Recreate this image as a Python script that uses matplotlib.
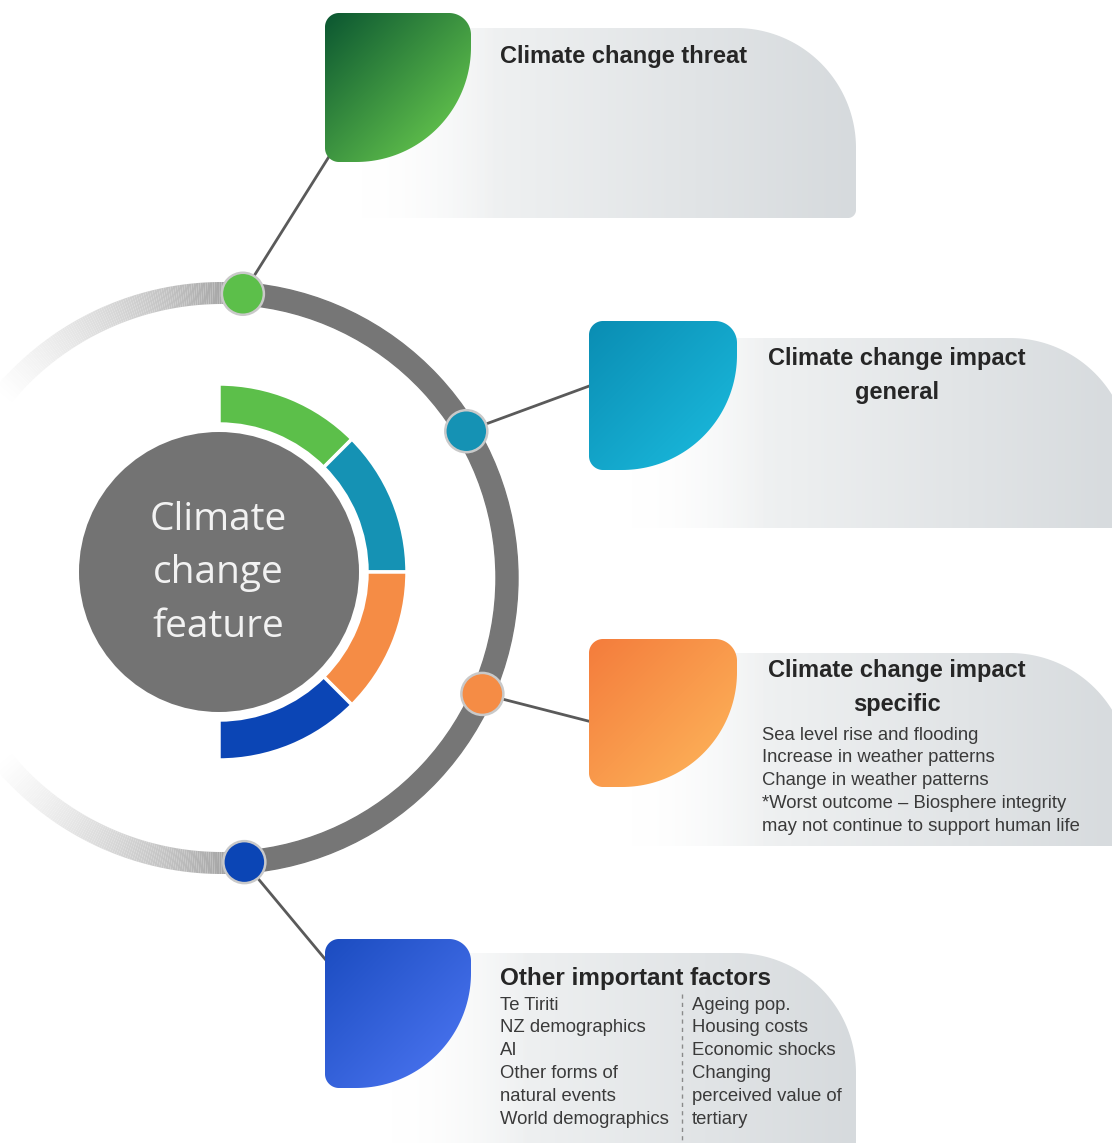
import numpy as np
import matplotlib.pyplot as plt
from matplotlib.patches import Wedge, Circle, PathPatch
from matplotlib.path import Path

# text content
# -------------------------------------------------------------------------------------
centre_words = ["Climate", "change", "feature"]
titles = [["Climate change threat"],
          ["Climate change impact", "general"],
          ["Climate change impact", "specific"],
          ["Other important factors"]]
specific_lines = ["Sea level rise and flooding",
                  "Increase in weather patterns",
                  "Change in weather patterns",
                  "*Worst outcome \u2013 Biosphere integrity",
                  "may not continue to support human life"]
factors_left = ["Te Tiriti", "NZ demographics", "AI", "Other forms of",
                "natural events", "World demographics"]
factors_right = ["Ageing pop.", "Housing costs", "Economic shocks", "Changing",
                 "perceived value of", "tertiary"]

# colours of the four themes (dot / inner arc, card gradient start, card gradient end)
theme_dot = ["#5cbf4a", "#1592b4", "#f58c45", "#0b45b5"]
card_c0 = ["#0b5631", "#0a8db3", "#f47c3c", "#1b4cc0"]
card_c1 = ["#72d651", "#1cbde0", "#feb85c", "#4f78f5"]


W, H = 1112, 1143
fig = plt.figure(figsize=(W / 100, H / 100), dpi=100)
ax = fig.add_axes([0, 0, 1, 1])
plt.rcParams['font.family'] = ['Liberation Sans', 'DejaVu Sans']


def hex2rgb(h):
    return np.array([int(h[i:i + 2], 16) for i in (1, 3, 5)]) / 255


def rounded_path(x0, y0, x1, y1, r_tl, r_tr, r_br, r_bl, n=60):
    # y grows downwards (axis is inverted)
    corners = [(x0 + r_tl, y0 + r_tl, r_tl, 180, 270),
               (x1 - r_tr, y0 + r_tr, r_tr, 270, 360),
               (x1 - r_br, y1 - r_br, r_br, 0, 90),
               (x0 + r_bl, y1 - r_bl, r_bl, 90, 180)]
    pts = []
    for cx, cy, r, a0, a1 in corners:
        t = np.radians(np.linspace(a0, a1, n))
        pts.append(np.column_stack([cx + r * np.cos(t), cy + r * np.sin(t)]))
    pts = np.vstack(pts)
    return Path(np.vstack([pts, pts[:1]]), closed=True)


def gradient_fill(path, c0, c1, mode="diag", fade=None, zorder=1):
    x0, y0 = path.vertices.min(0)
    x1, y1 = path.vertices.max(0)
    nx, ny = int(x1 - x0) + 1, int(y1 - y0) + 1
    X, Y = np.meshgrid(np.linspace(0, 1, nx), np.linspace(0, 1, ny))
    t = (X + Y) / 2 if mode == "diag" else X
    rgb = hex2rgb(c0) * (1 - t[..., None]) + hex2rgb(c1) * t[..., None]
    alpha = np.ones_like(t)
    if fade:
        alpha = np.clip(X * (x1 - x0) / fade, 0, 1) ** 1.3
    img = np.dstack([rgb, alpha])
    patch = PathPatch(path, facecolor="none", edgecolor="none", transform=ax.transData)
    ax.add_patch(patch)
    im = ax.imshow(img, extent=(x0, x1, y1, y0), origin="upper", aspect="auto",
                   zorder=zorder, interpolation="bilinear")
    im.set_clip_path(patch)


# background panels
# -------------------------------------------------------------------------------------
panels = [(360, 28, 856, 218), (630, 338, 1130, 528), (630, 653, 1130, 846), (390, 953, 856, 1170)]
for (x0, y0, x1, y1) in panels:
    gradient_fill(rounded_path(x0, y0, x1, y1, 0.01, 120, 8, 0.01), "#f8f9f9", "#d6dadd",
                  mode="h", fade=140, zorder=1)

# cards
cards = [(325, 13, 471, 162), (589, 321, 737, 470), (589, 639, 737, 787), (325, 939, 471, 1088)]
for k, (x0, y0, x1, y1) in enumerate(cards):
    gradient_fill(rounded_path(x0, y0, x1, y1, 14, 22, 115, 14), card_c0[k], card_c1[k],
                  mode="diag", zorder=3)

# outer ring
# -------------------------------------------------------------------------------------
rc = (222, 578)
r_out, ring_w = 296, 22
ax.add_patch(Wedge(rc, r_out, -86, 86, width=ring_w, color="#767676", zorder=2))
a_end = 140
steps = np.linspace(86, a_end, 120)
for a0, a1 in zip(steps[:-1], steps[1:]):
    t = (a0 - 86) / (a_end - 86)
    g = 0.56 + 0.44 * t ** 0.6
    ax.add_patch(Wedge(rc, r_out, -a1, -a0, width=ring_w, color=(g, g, g), lw=0, zorder=2))
    ax.add_patch(Wedge(rc, r_out, a0, a1, width=ring_w, color=(g, g, g), lw=0, zorder=2))

# connectors and dots
dot_angles = [85.8, 31, -24, -85.5]
r_mid = r_out - ring_w / 2
card_anchor = [(330, 155), (592, 385), (592, 722), (330, 965)]
for k, a in enumerate(dot_angles):
    cx = rc[0] + r_mid * np.cos(np.radians(a))
    cy = rc[1] - r_mid * np.sin(np.radians(a))
    ax.plot([cx, card_anchor[k][0]], [cy, card_anchor[k][1]], color="#5a5a5a", lw=2,
            zorder=2, solid_capstyle="round")
    ax.add_patch(Circle((cx, cy), 21, fc=theme_dot[k], ec="#c9c9c9", lw=1.8, zorder=4))

# centre circle and inner arcs
# -------------------------------------------------------------------------------------
cc = (219, 572)
ax.add_patch(Circle(cc, 140, fc="#737373", ec="none", zorder=3))
bounds = [90, 45, 0, -45, -90]
for k in range(4):
    ax.add_patch(Wedge(cc, 188, -bounds[k], -bounds[k + 1], width=40, fc=theme_dot[k],
                       ec="white", lw=2.5, zorder=3))
for k, w in enumerate(centre_words):
    ax.text(218, 520 + 53.5 * k, w, ha="center", va="center", fontsize=28,
            color="#f2f2f2", family=["Open Sans", "DejaVu Sans"], zorder=5)

# texts
# -------------------------------------------------------------------------------------
tkw = dict(fontsize=17, fontweight="bold", color="#262626", va="center", zorder=5)
ax.text(500, 57, titles[0][0], ha="left", **tkw)
for k, y in [(1, 358), (2, 670)]:
    ax.text(897, y, titles[k][0], ha="center", **tkw)
    ax.text(897, y + 34, titles[k][1], ha="center", **tkw)
ax.text(500, 978, titles[3][0], ha="left", **dict(tkw, fontsize=17.5))

bkw = dict(fontsize=13.3, color="#3a3a3a", va="center", ha="left", zorder=5)
for i, s in enumerate(specific_lines):
    ax.text(762, 735 + 22.8 * i, s, **bkw)
for i, s in enumerate(factors_left):
    ax.text(500, 1005 + 22.8 * i, s, **bkw)
for i, s in enumerate(factors_right):
    ax.text(692, 1005 + 22.8 * i, s, **bkw)
ax.plot([682, 682], [994, 1140], color="#8a8a8a", lw=1, ls=(0, (3, 3)), zorder=5)

ax.set_xlim(0, W)
ax.set_ylim(H, 0)
ax.axis("off")
fig.savefig("out.png", dpi=100, facecolor="white")
